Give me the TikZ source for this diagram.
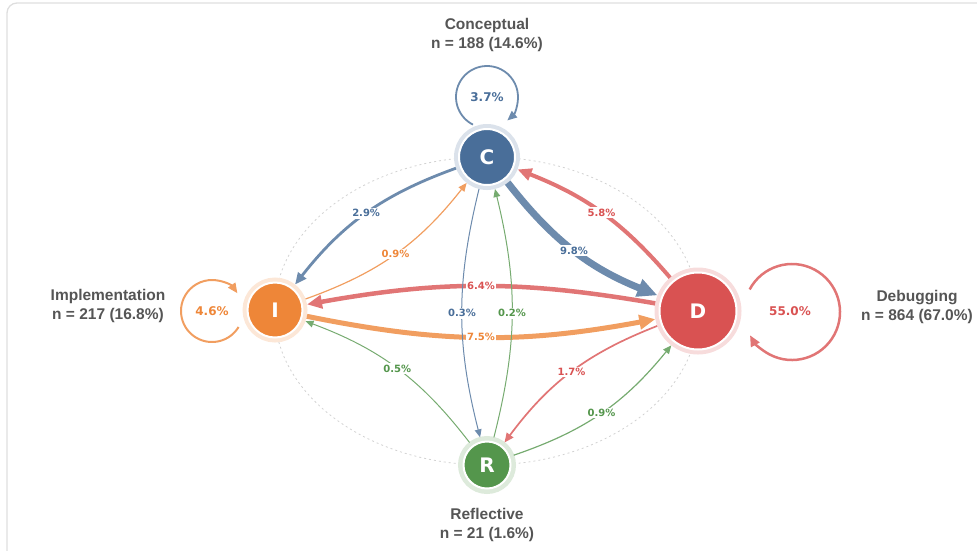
\documentclass[tikz,border=0pt]{standalone}
\usepackage{fontspec}
\setmainfont{Liberation Sans}
\newfontfamily\dejavu{DejaVu Sans}
\usetikzlibrary{arrows.meta}

\definecolor{cblue}{RGB}{73,110,153}
\definecolor{iorange}{RGB}{238,134,56}
\definecolor{dred}{RGB}{217,82,82}
\definecolor{rgreen}{RGB}{84,150,76}
\definecolor{txtgray}{RGB}{85,85,85}
\definecolor{framegray}{RGB}{222,222,222}

\begin{document}
\begin{tikzpicture}[x=1pt, y=1pt]
\tikzstyle{state} = [circle, inner sep=0pt, draw=white, line width=2pt, outer sep=5pt, text=white, font=\dejavu\bfseries\fontsize{20}{20}\selectfont]
\tikzstyle{title} = [align=center, text=txtgray, font=\bfseries\fontsize{15.5}{19.5}\selectfont]
\tikzstyle{edge} = [-{Triangle[length=6pt 2, width=5pt 1.8]}]
\tikzstyle{elab} = [fill=white, inner sep=1.5pt, font=\dejavu\bfseries\fontsize{10}{10}\selectfont]
\tikzstyle{llab} = [inner sep=0pt, font=\dejavu\bfseries\fontsize{12}{12}\selectfont]

\clip (0,0) rectangle (977,-550);
\draw[framegray, line width=1.3pt, rounded corners=10pt] (7,-3) rectangle (995,-562);

% guide ring through the four states
\coordinate (O) at (486.5,-311);
\draw[gray!35, line width=0.8pt, dash pattern=on 2pt off 3pt] (O) ellipse [x radius=212pt, y radius=154pt];

\node[state, fill=cblue, minimum size=56pt, preaction={draw=cblue!20, line width=10pt}] (C) at (487,-157) {C};
\node[state, fill=iorange, minimum size=55pt, preaction={draw=iorange!20, line width=10pt}] (I) at (275,-310) {I};
\node[state, fill=dred, minimum size=77pt, preaction={draw=dred!20, line width=10pt}] (D) at (698,-311) {D};
\node[state, fill=rgreen, minimum size=47pt, preaction={draw=rgreen!20, line width=11pt}] (R) at (487,-465) {R};

\node[title] (Ct) at (487,-35) {Conceptual\\n = 188 (14.6\%)};
\node[title] (It) at (108,-306) {Implementation\\n = 217 (16.8\%)};
\node[title] (Dt) at (917,-307) {Debugging\\n = 864 (67.0\%)};
\node[title] (Rt) at (487,-525) {Reflective\\n = 21 (1.6\%)};

% self loops
\node[llab, text=cblue] (Cl) at (487,-97) {3.7\%};
\node[llab, text=iorange] (Il) at (212,-311) {4.6\%};
\node[llab, text=dred] (Dl) at (790,-311) {55.0\%};
\draw[edge, cblue!80!white, line width=1.8pt] ([shift={(-117:31pt)}]Cl.center) arc[start angle=-117, end angle=-409, radius=31pt];
\draw[edge, iorange!80!white, line width=2pt] ([shift={(-31:31pt)}]Il.center) arc[start angle=-31, end angle=-325, radius=31pt];
\draw[edge, dred!80!white, line width=2.5pt] ([shift={(-208:48pt)}]792,-312) arc[start angle=-208, end angle=-511, radius=48pt];

% transitions
\draw[edge, cblue!80!white, line width=2.8pt] (C) to[bend right=16] node[elab, text=cblue] {2.9\%} (I);
\draw[edge, iorange!80!white, line width=1.2pt] (I) to[bend right=16] node[elab, text=iorange] {0.9\%} (C);
\draw[edge, cblue!80!white, line width=7pt] (C) to[bend right=15] node[elab, text=cblue] {9.8\%} (D);
\draw[edge, dred!80!white, line width=4pt] (D) to[bend right=14] node[elab, text=dred] {5.8\%} (C);
\draw[edge, dred!80!white, line width=4.5pt] (D) to[bend right=10] node[elab, text=dred] {6.4\%} (I);
\draw[edge, iorange!80!white, line width=5pt] (I) to[bend right=11] node[elab, text=iorange] {7.5\%} (D);
\draw[edge, cblue!80!white, line width=1pt] (C) to[bend right=14] node[elab, text=cblue] {0.3\%} (R);
\draw[edge, rgreen!80!white, line width=1pt] (R) to[bend right=14] node[elab, text=rgreen] {0.2\%} (C);
\draw[edge, rgreen!80!white, line width=1pt] (R) to[bend right=16] node[elab, text=rgreen] {0.5\%} (I);
\draw[edge, dred!80!white, line width=1.7pt] (D) to[bend right=16] node[elab, text=dred] {1.7\%} (R);
\draw[edge, rgreen!80!white, line width=1.2pt] (R) to[bend right=16] node[elab, text=rgreen] {0.9\%} (D);
\end{tikzpicture}
\end{document}
